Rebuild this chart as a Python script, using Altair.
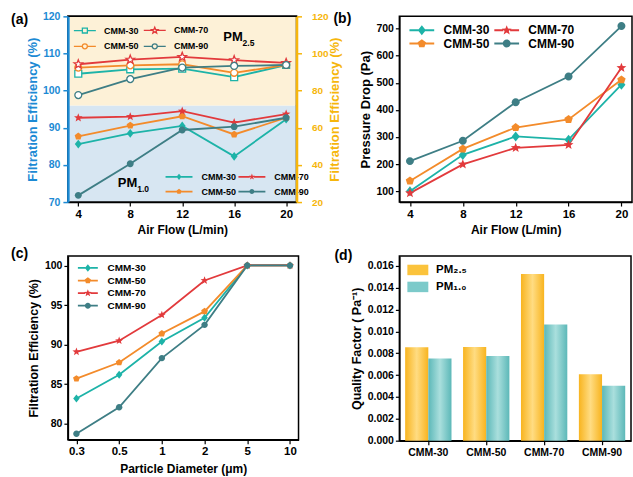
import altair as alt
import pandas as pd

FONT = "Liberation Sans"
SAMPLES = ["CMM-30", "CMM-50", "CMM-70", "CMM-90"]
COLORS = ["#1db3a8", "#f38b2b", "#e23a3c", "#3e7e85"]
BLUE = "#1c8ad4"
YELLOW = "#f6b60c"

# ---------------- data ----------------
flow = [4, 8, 12, 16, 20]

# (a) PM2.5 filtration efficiency (right axis, %)
pm25_cmm30 = [89.1, 91.5, 91.8, 87.3, 93.8]
pm25_cmm50 = [92.4, 93.6, 94.2, 89.6, 93.8]
pm25_cmm70 = [94.2, 96.7, 98.2, 96.4, 94.9]
pm25_cmm90 = [77.6, 86.2, 92.4, 93.3, 93.8]

# (a) PM1.0 filtration efficiency (left axis, %)
pm10_cmm30 = [85.6, 88.5, 90.5, 82.3, 92.3]
pm10_cmm50 = [87.7, 90.6, 93.1, 88.2, 92.7]
pm10_cmm70 = [92.7, 93.0, 94.5, 91.4, 93.7]
pm10_cmm90 = [71.8, 80.3, 89.4, 90.3, 92.7]

# (b) pressure drop (Pa)
dp_cmm30 = [100, 234, 302, 290, 493]
dp_cmm50 = [138, 256, 335, 365, 511]
dp_cmm70 = [93, 199, 260, 271, 555]
dp_cmm90 = [211, 286, 428, 523, 709]

# (c) efficiency vs particle diameter
diam = ["0.3", "0.5", "1", "2", "5", "10"]
pd_cmm30 = [83.2, 86.2, 90.4, 93.4, 100, 100]
pd_cmm50 = [85.7, 87.75, 91.4, 94.2, 100, 100]
pd_cmm70 = [89.1, 90.5, 93.75, 98.1, 100, 100]
pd_cmm90 = [78.75, 82.1, 88.3, 92.5, 100, 100]

# (d) quality factor
PM25 = "PM₂.₅"
PM10 = "PM₁.₀"
qf_pm25 = [0.00854, 0.00856, 0.01524, 0.00607]
qf_pm10 = [0.00753, 0.00774, 0.01064, 0.00503]


def long_df(xname, xs, series_lists):
    rows = []
    for name, vals in zip(SAMPLES, series_lists):
        for xv, v in zip(xs, vals):
            rows.append({xname: xv, "series": name, "v": v})
    return pd.DataFrame(rows)


df_pm25 = long_df("flow", flow, [pm25_cmm30, pm25_cmm50, pm25_cmm70, pm25_cmm90])
df_pm10 = long_df("flow", flow, [pm10_cmm30, pm10_cmm50, pm10_cmm70, pm10_cmm90])
df_dp = long_df("flow", flow, [dp_cmm30, dp_cmm50, dp_cmm70, dp_cmm90])
df_pd = long_df("d", diam, [pd_cmm30, pd_cmm50, pd_cmm70, pd_cmm90])
df_qf = pd.DataFrame(
    [{"sample": s, "series": PM25, "k": 0, "v": v} for s, v in zip(SAMPLES, qf_pm25)]
    + [{"sample": s, "series": PM10, "k": 1, "v": v} for s, v in zip(SAMPLES, qf_pm10)]
)

# ---------------- symbols ----------------
def circ(r=1.0):
    return f"M{r},0A{r},{r},0,1,1,{-r},0A{r},{r},0,1,1,{r},0Z"


SQUARE = "M-1,-1H1V1H-1Z"
DIAMOND = "M0,-1.25L1,0L0,1.25L-1,0Z"
PENTAGON = "M0,-1.1L1.046,-0.34L0.647,0.89L-0.647,0.89L-1.046,-0.34Z"
STAR = ("M0,-1.3L0.323,-0.445L1.236,-0.402L0.523,0.17L0.764,1.052L0,0.55"
        "L-0.764,1.052L-0.523,0.17L-1.236,-0.402L-0.323,-0.445Z")
CIRCLE = circ(1)
RECT = "M-2,-1H2V1H-2Z"

FILLED = [DIAMOND, PENTAGON, STAR, CIRCLE]
OPEN = [SQUARE, CIRCLE, STAR, CIRCLE]


def leg_filled(marker, L, t, gap=0.85):
    return f"M{-L},{-t}H{-gap}V{t}H{-L}Z M{gap},{-t}H{L}V{t}H{gap}Z " + marker


def leg_open(marker, L, gap=1.0):
    return f"M{-L},0H{-gap}M{gap},0H{L} " + marker


color_scale = alt.Scale(domain=SAMPLES, range=COLORS)


def legend_layer(key, paths, filled, legend, sw=1.4):
    d = pd.DataFrame({key: SAMPLES})
    return alt.Chart(d).transform_filter("false").mark_point(
        filled=filled, opacity=1, strokeWidth=sw
    ).encode(
        color=alt.Color(f"{key}:N", sort=SAMPLES, scale=alt.Scale(domain=SAMPLES, range=COLORS),
                        legend=legend),
        shape=alt.Shape(f"{key}:N", sort=SAMPLES, scale=alt.Scale(domain=SAMPLES, range=paths),
                        legend=legend),
    )


def txt(s, x, y, size, color="black", align="left", baseline="middle"):
    return alt.Chart(pd.DataFrame({"t": [s]})).mark_text(
        text=s, font=FONT, fontSize=size, fontWeight="bold", color=color,
        align=align, baseline=baseline
    ).encode(x=alt.value(x), y=alt.value(y))


# ---------------- panel (a) ----------------
WA, HA = 229, 186
x_flow = alt.Scale(domain=[3.2, 20.8], nice=False, zero=False)
xa_axis = alt.Axis(values=flow, title="Air Flow (L/min)", labelFontSize=11.5,
                   titleFontSize=12, tickSize=4, labelPadding=2, titlePadding=5)
yl_scale = alt.Scale(domain=[70, 120], nice=False, zero=False)
yl_axis = alt.Axis(values=[70, 80, 90, 100, 110, 120], title="Filtration Efficiency (%)",
                   domainColor=BLUE, domainWidth=2.5, tickColor=BLUE, tickWidth=1.5,
                   labelColor=BLUE, titleColor=BLUE, labelFontSize=10.5, titleFontSize=13,
                   tickSize=5, labelPadding=3, titlePadding=3, zindex=2)
yr_scale = alt.Scale(domain=[20, 120], nice=False, zero=False)
yr_axis = alt.Axis(orient="right", values=[20, 40, 60, 80, 100, 120],
                   title="Filtration Efficiency (%)",
                   domainColor=YELLOW, domainWidth=2.5, tickColor=YELLOW, tickWidth=1.5,
                   labelColor=YELLOW, titleColor=YELLOW, labelFontSize=10, titleFontSize=13,
                   tickSize=5, labelPadding=10, titlePadding=0, titleAngle=270,
                   titleBaseline="top", zindex=2)

bg_df = pd.DataFrame({"y": [70, 96], "y2": [96, 120], "c": ["#d7e6f2", "#fdf1d7"]})
bg = alt.Chart(bg_df).mark_rect().encode(
    x=alt.value(0), x2=alt.value(WA),
    y=alt.Y("y:Q", scale=yl_scale, axis=yl_axis), y2="y2:Q",
    fill=alt.Fill("c:N", scale=None, legend=None),
)
line10 = alt.Chart(df_pm10).mark_line(strokeWidth=1.8).encode(
    x=alt.X("flow:Q", scale=x_flow, axis=xa_axis),
    y=alt.Y("v:Q", scale=yl_scale, axis=yl_axis),
    color=alt.Color("series:N", scale=color_scale, legend=None),
)
pts10 = alt.Chart(df_pm10).mark_point(filled=True, opacity=1, size=48).encode(
    x=alt.X("flow:Q", scale=x_flow, axis=xa_axis),
    y=alt.Y("v:Q", scale=yl_scale, axis=yl_axis),
    color=alt.Color("series:N", scale=color_scale, legend=None),
    shape=alt.Shape("series:N", scale=alt.Scale(domain=SAMPLES, range=FILLED), legend=None),
)
line25 = alt.Chart(df_pm25).mark_line(strokeWidth=1.8).encode(
    x=alt.X("flow:Q", scale=x_flow, axis=xa_axis),
    y=alt.Y("v:Q", scale=yr_scale, axis=yr_axis),
    color=alt.Color("series:N", scale=color_scale, legend=None),
)
pts25 = alt.Chart(df_pm25).mark_point(filled=False, fill="white", opacity=1, size=48,
                                      strokeWidth=1.3).encode(
    x=alt.X("flow:Q", scale=x_flow, axis=xa_axis),
    y=alt.Y("v:Q", scale=yr_scale, axis=yr_axis),
    color=alt.Color("series:N", scale=color_scale, legend=None),
    shape=alt.Shape("series:N", scale=alt.Scale(domain=SAMPLES, range=OPEN), legend=None),
)
frameA = alt.Chart(pd.DataFrame({"a": [0]})).mark_rect(
    fill="transparent", stroke="black", strokeWidth=1.5
).encode(x=alt.value(0), x2=alt.value(WA), y=alt.value(0), y2=alt.value(HA))

legA25 = alt.Legend(orient="none", legendX=6, legendY=9.5, columns=2, title=None,
                    labelFontSize=9, symbolSize=25, symbolOffset=6.5,
                    labelOffset=14.7, columnPadding=2, rowPadding=5, padding=0,
                    symbolStrokeWidth=1.3)
legA10 = alt.Legend(orient="none", legendX=98, legendY=156, columns=2, title=None,
                    labelFontSize=9, symbolSize=25, symbolOffset=8.8,
                    labelOffset=18, columnPadding=1, rowPadding=5, padding=0)

leg25_layer = legend_layer("a25", [leg_open(m, 4.4) for m in OPEN], False, legA25, sw=1.3)
leg10_layer = legend_layer("a10", [leg_filled(m, 5.4, 0.35) for m in FILLED], True, legA10)

A = alt.layer(
    alt.layer(bg, line10, pts10),
    alt.layer(line25, pts25),
    frameA,
    leg25_layer,
    leg10_layer,
    txt("PM", 155.7, 20.7, 13),
    txt("2.5", 175, 26.5, 8.5),
    txt("PM", 50, 166.7, 13),
    txt("1.0", 69.5, 172.5, 8.5),
    txt("(a)", -57, 4, 14),
).resolve_scale(y="independent", color="independent", shape="independent").properties(
    width=WA, height=HA)

# ---------------- panel (b) ----------------
WB, HB = 233, 186
xb_axis = alt.Axis(values=flow, title="Air Flow (L/min)", labelFontSize=11.5,
                   titleFontSize=12, tickSize=4, labelPadding=2, titlePadding=5)
yb_scale = alt.Scale(domain=[60, 745], nice=False, zero=False)
yb_axis = alt.Axis(values=[100, 200, 300, 400, 500, 600, 700], title="Pressure Drop (Pa)",
                   labelFontSize=10.5, titleFontSize=13, tickSize=4, labelPadding=2,
                   titlePadding=3)
lineB = alt.Chart(df_dp).mark_line(strokeWidth=1.8).encode(
    x=alt.X("flow:Q", scale=x_flow, axis=xb_axis),
    y=alt.Y("v:Q", scale=yb_scale, axis=yb_axis),
    color=alt.Color("series:N", scale=color_scale, legend=None),
)
ptsB = alt.Chart(df_dp).mark_point(filled=True, opacity=1, size=64).encode(
    x=alt.X("flow:Q", scale=x_flow, axis=xb_axis),
    y=alt.Y("v:Q", scale=yb_scale, axis=yb_axis),
    color=alt.Color("series:N", scale=color_scale, legend=None),
    shape=alt.Shape("series:N", scale=alt.Scale(domain=SAMPLES, range=FILLED), legend=None),
)
legB = alt.Legend(orient="none", legendX=10, legendY=8, columns=2, title=None,
                  labelFontSize=12, symbolSize=64, symbolOffset=6.5,
                  labelOffset=15.7, columnPadding=4, rowPadding=1.3, padding=0)
B = alt.layer(
    lineB, ptsB,
    legend_layer("b", [leg_filled(m, 3.1, 0.25) for m in FILLED], True, legB),
    txt("(b)", -66, 3, 14),
).resolve_scale(color="independent", shape="independent").properties(width=WB, height=HB)

# ---------------- panel (c) ----------------
WC, HC = 231, 184
xc = alt.X("d:N", sort=diam, scale=alt.Scale(type="point", padding=0.2),
           axis=alt.Axis(labelAngle=0, title="Particle Diameter (μm)", labelFontSize=11.5,
                         titleFontSize=12, tickSize=4, labelPadding=2, titlePadding=6))
yc_scale = alt.Scale(domain=[78, 101.2], nice=False, zero=False)
yc_axis = alt.Axis(values=[80, 85, 90, 95, 100], title="Filtration Efficiency (%)",
                   labelFontSize=10.5, titleFontSize=12.5, tickSize=4, labelPadding=2,
                   titlePadding=4)
lineC = alt.Chart(df_pd).mark_line(strokeWidth=1.8).encode(
    x=xc, y=alt.Y("v:Q", scale=yc_scale, axis=yc_axis),
    color=alt.Color("series:N", scale=color_scale, legend=None),
)
ptsC = alt.Chart(df_pd).mark_point(filled=True, opacity=1, size=42).encode(
    x=xc, y=alt.Y("v:Q", scale=yc_scale, axis=yc_axis),
    color=alt.Color("series:N", scale=color_scale, legend=None),
    shape=alt.Shape("series:N", scale=alt.Scale(domain=SAMPLES, range=FILLED), legend=None),
)
legC = alt.Legend(orient="none", legendX=10, legendY=7, columns=1, title=None,
                  labelFontSize=10, symbolSize=36, symbolOffset=5,
                  labelOffset=14.7, rowPadding=2.6, padding=0)
C = alt.layer(
    lineC, ptsC,
    legend_layer("c", [leg_filled(m, 3.33, 0.3) for m in FILLED], True, legC),
    txt("(c)", -57, -2, 14),
).resolve_scale(color="independent", shape="independent").properties(width=WC, height=HC)

# ---------------- panel (d) ----------------
WD, HD = 232, 185
G25 = {"gradient": "linear", "x1": 0, "x2": 1, "y1": 0, "y2": 0,
       "stops": [{"offset": 0, "color": "#f8b41f"}, {"offset": 0.5, "color": "#ffdc82"},
                 {"offset": 1, "color": "#f8b41f"}]}
G10 = {"gradient": "linear", "x1": 0, "x2": 1, "y1": 0, "y2": 0,
       "stops": [{"offset": 0, "color": "#5cb8b8"}, {"offset": 0.5, "color": "#aadfdd"},
                 {"offset": 1, "color": "#5cb8b8"}]}
xd = alt.X("sample:N", sort=SAMPLES, scale=alt.Scale(paddingInner=0.2, paddingOuter=0.1),
           axis=alt.Axis(labelAngle=0, title=None, labelFontSize=10.5, tickSize=4,
                         labelPadding=3))
xo = alt.XOffset("series:N", sort=[PM25, PM10], scale=alt.Scale(paddingInner=0, paddingOuter=0))
yd_scale = alt.Scale(domain=[0, 0.0169], nice=False, zero=True)
yd_axis = alt.Axis(values=[0, 0.002, 0.004, 0.006, 0.008, 0.010, 0.012, 0.014, 0.016],
                   format=".3f", title="Quality Factor ( Pa⁻¹)", labelFontSize=10.5,
                   titleFontSize=12.5, tickSize=4, labelPadding=2, titlePadding=4)
legD = alt.Legend(orient="none", legendX=8, legendY=8, title=None, labelFontSize=11.5,
                  symbolType=RECT, symbolSize=110, symbolOffset=4.5,
                  labelOffset=12.3, rowPadding=5, padding=0)
barsGrad = alt.Chart(df_qf).mark_bar().encode(
    x=xd, xOffset=xo, y=alt.Y("v:Q", scale=yd_scale, axis=yd_axis),
    fill=alt.condition("datum.k == 0", alt.value(G25), alt.value(G10)),
)
legD_layer = alt.Chart(pd.DataFrame({"pm": [PM25, PM10]})).transform_filter(
    "false").mark_point(filled=True, opacity=1, shape=RECT, strokeWidth=0).encode(
    color=alt.Color("pm:N", sort=[PM25, PM10],
                    scale=alt.Scale(domain=[PM25, PM10], range=["#fbc33c", "#7ccaca"]),
                    legend=legD),
)
D = alt.layer(barsGrad, legD_layer, txt("(d)", -65, 0, 14)).properties(width=WD, height=HD)

# ---------------- assemble ----------------
chart = alt.concat(
    A, B, C, D, columns=2, spacing={"row": 54, "column": 101}, bounds="flush", align="each"
).resolve_scale(
    color="independent", shape="independent"
).properties(
    padding={"left": 10, "top": 10, "right": 0, "bottom": 0}, background="white"
).configure_view(
    stroke="black", strokeWidth=1.5
).configure_axis(
    labelFont=FONT, titleFont=FONT, labelFontWeight="bold", titleFontWeight="bold",
    labelColor="black", titleColor="black", tickColor="black", domainColor="black",
    domainWidth=1.5, tickWidth=1.2, grid=False
).configure_legend(
    labelFont=FONT, labelFontWeight="bold", labelColor="black"
)

chart.save("out.html", embed_options={"renderer": "svg", "actions": False})
